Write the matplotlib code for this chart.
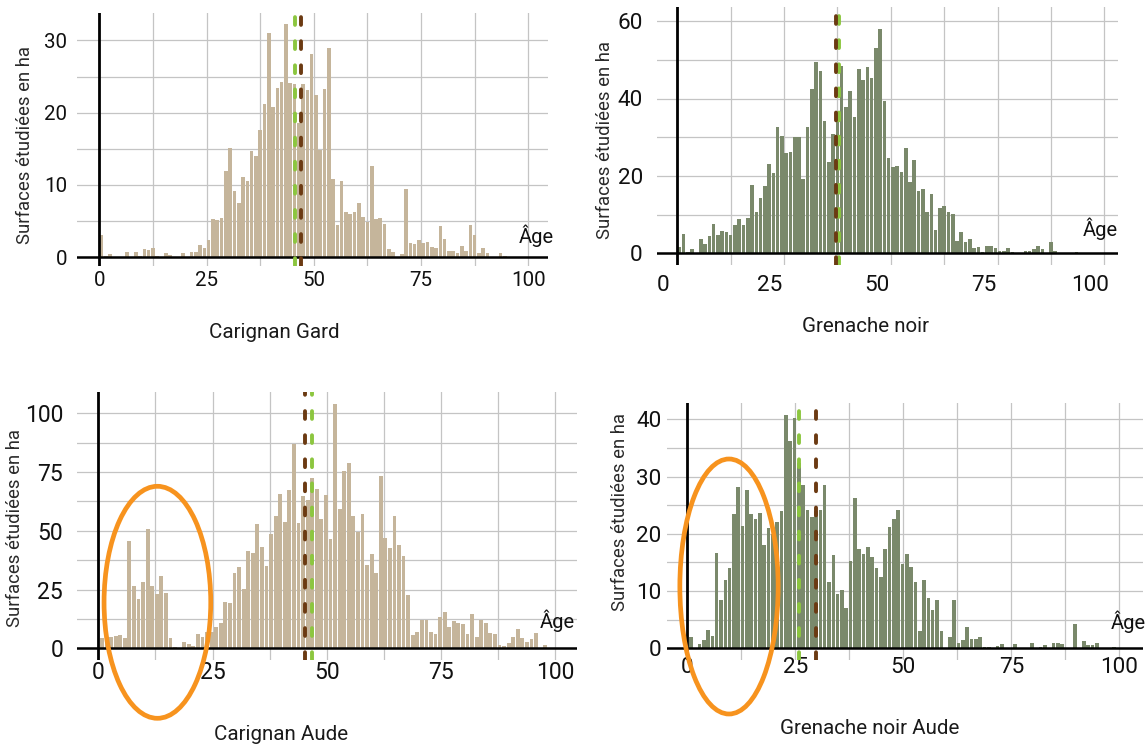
import matplotlib
matplotlib.use("Agg")
import matplotlib.pyplot as plt
import numpy as np
from matplotlib.patches import Ellipse
from matplotlib.transforms import ScaledTranslation

# ---------------- data ----------------
titles = ["Carignan Gard", "Grenache noir", "Carignan Aude", "Grenache noir Aude"]

carignan_gard = [3.1, 0.2, 0.4, 0, 0, 0, 0.65, 0, 0.7, 0.1,
                 1.1, 1.0, 1.3, 0.2, 0, 0.55, 0.3, 0, 0, 0.5,
                 0, 0.65, 0.65, 1.7, 1.2, 2.4, 5.2, 5.1, 5.4, 11.9,
                 15.1, 9.2, 7.5, 11.1, 10.5, 14.7, 14.0, 17.6, 21.2, 31.0,
                 20.8, 23.4, 24.2, 32.3, 24.1, 24.0, 18.5, 24.0, 23.1, 28.1,
                 22.5, 14.8, 23.2, 28.9, 10.8, 4.5, 10.5, 6.3, 5.9, 6.2,
                 7.5, 5.6, 4.8, 12.6, 5.3, 5.4, 4.6, 1.1, 0.7, 0,
                 0.4, 9.4, 1.9, 1.8, 2.4, 1.9, 2.1, 1.4, 1.2, 4.3,
                 2.5, 0.9, 0.9, 0.6, 1.5, 0.9, 4.4, 3.1, 0.5, 1.3,
                 0.55, 0, 0, 0.55, 0.2]

grenache_noir = [1.7, 5.1, 0.4, 1.1, 0, 3.6, 2.3, 4.4, 7.5, 4.7,
                 5.8, 5.5, 4.8, 7.4, 8.9, 7.4, 9.1, 17.6, 10.8, 14.2,
                 17.3, 23.2, 20.7, 32.6, 30.4, 25.8, 26.1, 30.0, 30.0, 19.3,
                 32.6, 42.4, 49.5, 47.1, 34.1, 23.7, 30.7, 36.0, 48.4, 37.8,
                 41.9, 35.1, 47.5, 44.8, 48.2, 45.3, 53.1, 58.0, 39.3, 24.5,
                 22.3, 22.6, 20.9, 27.3, 18.4, 24.1, 16.2, 16.7, 10.8, 15.4,
                 5.9, 11.6, 12.1, 10.7, 10.2, 3.3, 5.5, 2.8, 3.8, 1.3,
                 1.6, 0.4, 1.8, 1.9, 1.4, 0.5, 0.6, 1.3, 0.4, 0,
                 0.2, 0.7, 0.7, 1.2, 1.8, 1.0, 0, 2.8, 0.5, 0,
                 0.2, 0, 0, 0.4]

carignan_aude = [4.3, 4.7, 5.0, 5.3, 5.7, 4.3, 45.5, 26.3, 20.9, 28.4,
                 50.7, 26.3, 23.2, 30.8, 23.4, 4.3, 0.7, 0, 2.6, 1.7,
                 1.1, 6.1, 4.7, 7.1, 7.0, 8.9, 10.7, 19.6, 19.2, 32.2,
                 34.5, 25.3, 41.3, 40.6, 52.8, 42.9, 35.1, 48.6, 56.4, 65.8,
                 53.6, 67.5, 86.9, 53.3, 65.0, 63.0, 72.4, 67.8, 55.1, 65.3,
                 46.4, 104.1, 59.2, 75.3, 78.8, 56.1, 49.7, 57.1, 35.5, 40.2,
                 32.0, 73.4, 46.9, 42.6, 56.4, 43.9, 39.3, 22.7, 5.7, 7.1,
                 12.1, 12.1, 7.1, 6.1, 13.5, 15.6, 8.9, 11.6, 10.9, 10.2,
                 6.0, 14.6, 5.0, 12.1, 10.9, 6.4, 6.0, 1.6, 1.1, 2.1,
                 5.0, 8.4, 4.3, 2.8, 3.8, 6.7, 0, 1.4]

grenache_noir_aude = [2.0, 0, 0.7, 1.5, 3.2, 2.2, 16.7, 8.4, 11.9, 14.0,
                      23.5, 28.1, 21.3, 27.7, 23.5, 22.6, 23.7, 18.1, 21.1, 20.0,
                      22.1, 24.0, 40.7, 36.2, 40.2, 32.3, 28.5, 24.2, 23.0, 24.0,
                      24.1, 28.6, 11.6, 16.3, 9.5, 10.1, 7.1, 15.2, 26.2, 17.4,
                      16.4, 17.7, 16.0, 14.0, 12.5, 17.4, 21.2, 22.6, 24.1, 14.8,
                      16.5, 14.2, 11.5, 3.0, 12.0, 8.7, 6.7, 8.4, 3.0, 0,
                      1.9, 8.4, 0.9, 1.5, 3.8, 1.6, 1.6, 1.9, 0.3, 0.3,
                      0, 0.35, 0.8, 0, 0, 0.8, 0, 0, 0, 1.0,
                      0, 0.3, 0.5, 0, 1.0, 1.0, 0.8, 0, 0, 4.2,
                      0, 1.3, 0.5, 0.6, 1.0, 0, 0, 0, 0.2]

series = [carignan_gard, grenache_noir, carignan_aude, grenache_noir_aude]

# two reference ages per panel (dashed lines)
green_lines = [45.6, 37.9, 46.8, 25.9]
brown_lines = [47.1, 37.1, 45.2, 29.8]

x_ticks = [0, 25, 50, 75, 100]
x_tick_labels = ["0", "25", "50", "75", "100"]
y_ticks = [[0, 10, 20, 30], [0, 20, 40, 60], [0, 25, 50, 75, 100], [0, 10, 20, 30, 40]]
y_tick_labels = [[str(v) for v in t] for t in y_ticks]

ylabel_text = "Surfaces étudiées en ha"
age_text = "Âge"

# ---------------- style / layout ----------------
W, H, DPI = 1145, 749, 100
TAN = "#C5B59B"
SAGE = "#7A896B"
bar_colors = [TAN, SAGE, TAN, SAGE]
GREEN = "#8CC63F"
BROWN = "#6B3A12"
ORANGE = "#F7931E"
GRID = "#C4C4C4"
NARROW = ["Liberation Sans Narrow", "Roboto", "DejaVu Sans"]
TITLEF = ["Roboto", "DejaVu Sans"]

# rect (px): x0, x1, ytop, ybottom ; spine px, px/year ; baseline px, px/unit
layouts = [
    dict(rect=(77, 548, 13, 266), sx0=99.3, sx=4.29, by0=257.0, sy=7.22,
         yminor=[5, 15, 25], bar_off=0.5, fs=14.8, xpad=3.5, ypad=7,
         xlab_shift=0, ylab=(25, 145), title=(274, 332), age=(536, 236),
         ellipse=None),
    dict(rect=(656.7, 1118, 7, 265), sx0=677.3, sx=4.27, by0=253.3, sy=3.87,
         yminor=[10, 30, 50], bar_off=0.5, fs=16.2, xpad=7.5, ypad=10,
         xlab_shift=-14, ylab=(605, 140), title=(866, 326), age=(1100, 229),
         ellipse=None),
    dict(rect=(77, 577, 391.7, 660), sx0=98.3, sx=4.57, by0=648.3, sy=2.35,
         yminor=[12.5, 37.5, 62.5, 87.5], bar_off=0.8, fs=16.5, xpad=1.0, ypad=10,
         xlab_shift=0, ylab=(15, 528), title=(281, 734), age=(557, 621),
         ellipse=(157.4, 602.3, 106.7, 232)),
    dict(rect=(666.7, 1143, 403.3, 660), sx0=687.3, sx=4.32, by0=648.3, sy=5.725,
         yminor=[5, 15, 25, 35], bar_off=0.8, fs=16.2, xpad=-2.5, ypad=3.6,
         xlab_shift=0, ylab=(620, 512), title=(870, 729), age=(1128, 622),
         ellipse=(729.0, 586.5, 98.3, 255)),
]

fig = plt.figure(figsize=(W / DPI, H / DPI), dpi=DPI)

for i, L in enumerate(layouts):
    x0, x1, yt, yb = L["rect"]
    ax = fig.add_axes([x0 / W, 1 - yb / H, (x1 - x0) / W, (yb - yt) / H])
    ax.set_xlim((x0 - L["sx0"]) / L["sx"], (x1 - L["sx0"]) / L["sx"])
    ax.set_ylim((L["by0"] - yb) / L["sy"], (L["by0"] - yt) / L["sy"])

    # grid
    ax.set_xticks(x_ticks)
    ax.set_xticklabels(x_tick_labels)
    ax.set_xticks([12.5, 37.5, 62.5, 87.5], minor=True)
    ax.set_yticks(y_ticks[i])
    ax.set_yticklabels(y_tick_labels[i])
    ax.set_yticks(L["yminor"], minor=True)
    ax.grid(True, which="both", color=GRID, lw=0.9, zorder=0)
    ax.set_axisbelow(True)
    for s in ax.spines.values():
        s.set_visible(False)
    ax.tick_params(which="both", length=0)
    ax.tick_params(axis="x", pad=L["xpad"], labelsize=L["fs"], labelcolor="#111111")
    ax.tick_params(axis="y", pad=L["ypad"], labelsize=L["fs"], labelcolor="#111111")
    for lab in ax.get_xticklabels() + ax.get_yticklabels():
        lab.set_family(NARROW)
    if L["xlab_shift"]:
        off = ScaledTranslation(L["xlab_shift"] / DPI, 0, fig.dpi_scale_trans)
        for lab in ax.get_xticklabels():
            lab.set_transform(lab.get_transform() + off)

    # bars
    vals = np.array(series[i], dtype=float)
    ages = np.arange(len(vals))
    ax.bar(ages + L["bar_off"], vals, width=0.84, color=bar_colors[i], lw=0, zorder=2)

    # axes lines
    ax.axvline(0, color="black", lw=2.0, zorder=4)
    ax.axhline(0, color="black", lw=1.8, zorder=4)

    # dashed reference lines
    dash = (0, (2.0, 4.2))
    ax.axvline(green_lines[i], color=GREEN, lw=2.8, ls=dash, dash_capstyle="round", zorder=5)
    ax.axvline(brown_lines[i], color=BROWN, lw=2.8, ls=dash, dash_capstyle="round", zorder=5)

    # labels
    fx = lambda px: (px - x0) / (x1 - x0)
    fy = lambda py: (yb - py) / (yb - yt)
    ax.set_ylabel(ylabel_text, fontsize=13.3, family=NARROW, color="#2a2a2a")
    ax.yaxis.label.set_va("center")
    ax.yaxis.set_label_coords(fx(L["ylab"][0]), fy(L["ylab"][1]))
    ax.set_xlabel(titles[i], fontsize=14.8, family=TITLEF, color="#1a1a1a")
    ax.xaxis.label.set_va("center")
    ax.xaxis.set_label_coords(fx(L["title"][0]), fy(L["title"][1]))

    ax.text(fx(L["age"][0]), fy(L["age"][1]), age_text, transform=ax.transAxes,
            ha="center", va="center", fontsize=14.5, family=NARROW, color="#111111",
            zorder=6)

    if L["ellipse"] is not None:
        cx, cy, ew, eh = L["ellipse"]
        e = Ellipse(((cx - L["sx0"]) / L["sx"], (L["by0"] - cy) / L["sy"]),
                    ew / L["sx"], eh / L["sy"], fill=False, ec=ORANGE, lw=3.4,
                    clip_on=False, zorder=7)
        ax.add_patch(e)

fig.savefig("out.png", dpi=DPI)
